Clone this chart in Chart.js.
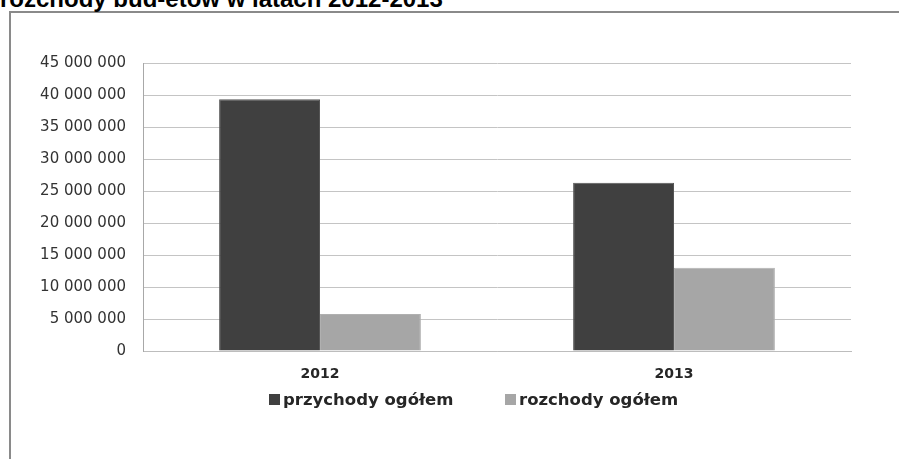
<!DOCTYPE html>
<html>
<head>
<meta charset="utf-8">
<script src="https://cdn.jsdelivr.net/npm/chart.js@4.4.1/dist/chart.umd.min.js"></script>
<style>
    html, body { margin: 0; padding: 0; background: #fff; overflow: hidden; }
    #wrap { position: relative; width: 899px; height: 459px; }
    #frame { position: absolute; left: 9px; top: 11px; width: 1000px; height: 1000px;
             border-left: 2px solid #8a8a8a; border-top: 2px solid #8a8a8a; box-sizing: border-box; }
    #title { position: absolute; left: 0; top: -15px; font: bold 24px "Liberation Sans", Arial, sans-serif;
             color: #000; white-space: nowrap; }
    #chartBox { position: absolute; left: 0; top: 0; width: 899px; height: 459px; }
    #legend { position: absolute; left: 0; top: 391px; width: 899px; height: 20px;
              font: bold 16.5px "DejaVu Sans", sans-serif; color: #262626; }
    .item { position: absolute; top: 0; white-space: nowrap; line-height: 18px; }
    .box { display: inline-block; width: 11px; height: 11px; margin-right: 3px; vertical-align: 0px; }
</style>
</head>
<body>
<div id="wrap">
    <div id="frame"></div>
    <div id="title">rozchody bud-etów w latach 2012-2013</div>
    <div id="chartBox"><canvas id="barChart" width="899" height="459"></canvas></div>
    <div id="legend"></div>
</div>
<script>
const years = ['2012', '2013'];
const przychody = [39350000, 26300000];
const rozchody = [5800000, 13000000];
const seriesNames = ['przychody ogółem', 'rozchody ogółem'];
const seriesColors = ['#404040', '#a6a6a6'];
const yMax = 45000000;
const yStep = 5000000;

function fmt(v) {
    return String(v).replace(/\B(?=(\d{3})+(?!\d))/g, ' ');
}

const data = {
    labels: years,
    datasets: [
        {
            label: seriesNames[0],
            data: przychody,
            backgroundColor: seriesColors[0],
            borderColor: '#555555',
            borderWidth: 1
        },
        {
            label: seriesNames[1],
            data: rozchody,
            backgroundColor: seriesColors[1],
            borderColor: '#b0b0b0',
            borderWidth: 1
        }
    ]
};

let options = {
    responsive: false,
    animation: false,
    categoryPercentage: 0.57,
    barPercentage: 1,
    layout: {
        padding: { left: 0, top: 63, right: 48, bottom: 0 }
    },
    plugins: {
        legend: { display: false }, // legend is drawn below in html
        tooltip: { enabled: false }
    },
    scales: {
        x: {
            grid: { display: false, drawTicks: false },
            border: { color: '#bdbdbd', width: 1 },
            ticks: {
                padding: 15,
                color: '#262626',
                font: { family: 'DejaVu Sans', size: 14, weight: 'bold' }
            },
            afterFit: (s) => { s.height = 108; }
        },
        y: {
            min: 0,
            max: yMax,
            grid: { color: '#c4c4c4', drawTicks: false },
            border: { color: '#a8a8a8', width: 1 },
            ticks: {
                stepSize: yStep,
                padding: 17,
                color: '#333333',
                font: { family: 'DejaVu Sans', size: 15 },
                callback: (v) => fmt(v)
            },
            afterFit: (s) => { s.width = 143; }
        }
    }
};

let ctx = document.getElementById('barChart').getContext('2d');
let barChart = new Chart(ctx, { type: 'bar', data: data, options: options });

// legend
const legendX = [269, 505];
const legend = document.getElementById('legend');
seriesNames.forEach((name, i) => {
    const item = document.createElement('div');
    item.className = 'item';
    item.style.left = legendX[i] + 'px';
    item.innerHTML = '<span class="box" style="background:' + seriesColors[i] + '"></span>' + name;
    legend.appendChild(item);
});
</script>
</body>
</html>
